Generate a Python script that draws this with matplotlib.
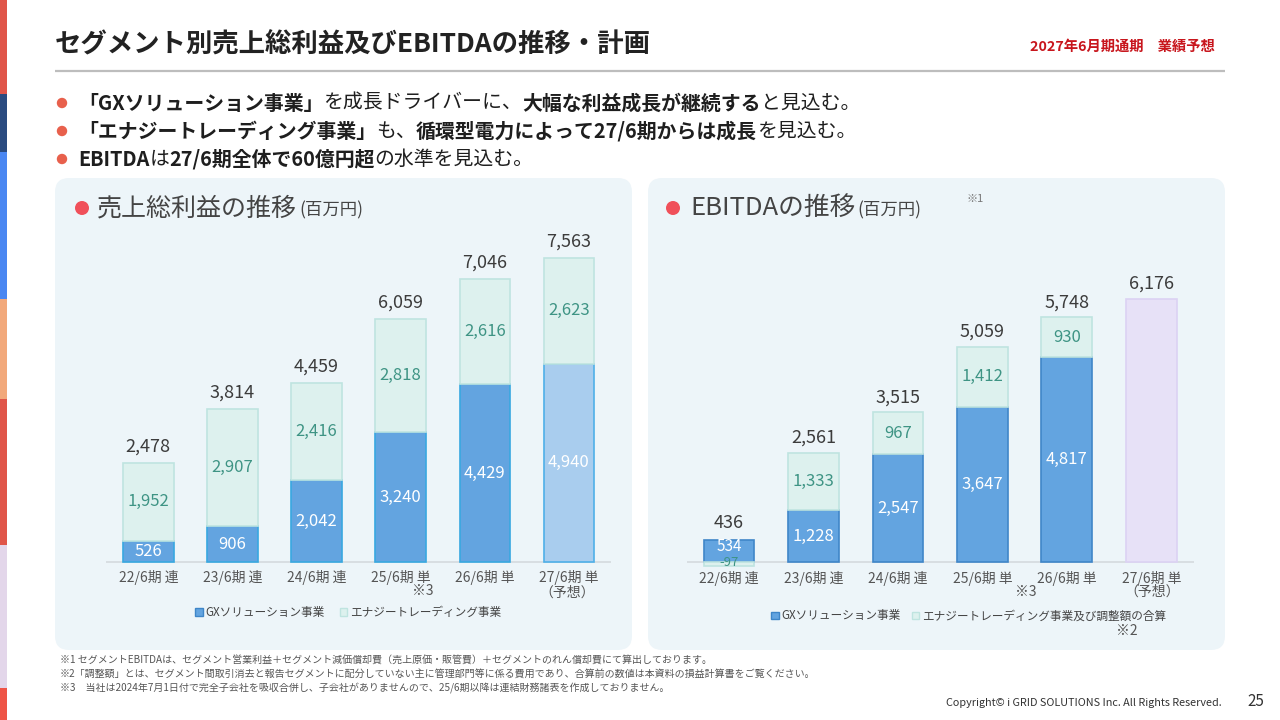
import matplotlib
matplotlib.use('Agg')
import matplotlib.pyplot as plt
from matplotlib.patches import FancyBboxPatch, Rectangle, Circle, Patch

plt.rcParams['font.family'] = ['Noto Sans CJK JP', 'DejaVu Sans']

W, H = 1280, 720

# ---------------- data ----------------
periods = ['22/6期 連', '23/6期 連', '24/6期 連', '25/6期 単', '26/6期 単', '27/6期 単']

gp_gx = [526, 906, 2042, 3240, 4429, 4940]
gp_energy = [1952, 2907, 2416, 2818, 2616, 2623]
gp_total = [2478, 3814, 4459, 6059, 7046, 7563]

eb_gx = [534, 1228, 2547, 3647, 4817]
eb_other = [-97, 1333, 967, 1412, 930]
eb_total = [436, 2561, 3515, 5059, 5748, 6176]

title = 'セグメント別売上総利益及びEBITDAの推移・計画'
header_note = '2027年6月期通期　業績予想'
bullet_lines = [
    [('「GXソリューション事業」', True), ('を成長ドライバーに、', False),
     ('大幅な利益成長が継続する', True), ('と見込む。', False)],
    [('「エナジートレーディング事業」', True), ('も、', False),
     ('循環型電力によって27/6期からは成長', True), ('を見込む。', False)],
    [('EBITDA', True), ('は', False), ('27/6期全体で60億円超', True), ('の水準を見込む。', False)],
]
left_title = '売上総利益の推移'
right_title = 'EBITDAの推移'
unit_label = '(百万円)'
left_legend = ['GXソリューション事業', 'エナジートレーディング事業']
right_legend = ['GXソリューション事業', 'エナジートレーディング事業及び調整額の合算']
forecast_note = '（予想）'
footnotes = [
    '※1 セグメントEBITDAは、セグメント営業利益＋セグメント減価償却費（売上原価・販管費）＋セグメントのれん償却費にて算出しております。',
    '※2「調整額」とは、セグメント間取引消去と報告セグメントに配分していない主に管理部門等に係る費用であり、合算前の数値は本資料の損益計算書をご覧ください。',
    '※3　当社は2024年7月1日付で完全子会社を吸収合併し、子会社がありませんので、25/6期以降は連結財務諸表を作成しておりません。',
]
copyright_text = 'Copyright© i GRID SOLUTIONS Inc. All Rights Reserved.'
page_no = '25'

# ---------------- styles ----------------
C_GX = '#63A4E0'
C_GX_EDGE = '#38A8E0'
C_GX_EDGE_R = '#3F86C8'
C_GX_FC = '#A9CDEE'
C_EN = '#DDF1EE'
C_EN_EDGE = '#BFE4E0'
C_FC_R = '#E7E1F7'
C_FC_R_EDGE = '#DCD2F3'
C_PANEL = '#EDF5F9'
C_TEAL = '#3E9484'
C_DARK = '#3C3C3C'
C_TICK = '#555555'

fig = plt.figure(figsize=(12.8, 7.2), dpi=100)
fig.patch.set_facecolor('white')
bg = fig.add_axes([0, 0, 1, 1])
bg.set_xlim(0, W)
bg.set_ylim(H, 0)
bg.set_axis_off()
renderer = fig.canvas.get_renderer()

# left stripe
stripe = [(0, 94, '#E05549'), (94, 152, '#2A4B80'), (152, 299, '#4A87F2'),
          (299, 399, '#F2A97B'), (399, 545, '#E05549'), (545, 688, '#E3D6EA'),
          (688, 720, '#EE5446')]
for y0, y1, c in stripe:
    bg.add_patch(Rectangle((0, y0), 7, y1 - y0, facecolor=c, edgecolor='none'))

# title & header
bg.text(55, 45, title, fontsize=19, fontweight='bold', color='#222222', ha='left', va='center')
bg.text(1215, 47, header_note, fontsize=10.3, fontweight='bold', color='#C8161D', ha='right', va='center')
bg.plot([55, 1225], [71, 71], color='#BDBDBD', lw=1.6, solid_capstyle='butt')

# bullets
def runs(x, y, parts, size, color, va='center'):
    for txt, bold in parts:
        t = bg.text(x, y, txt, fontsize=size, fontweight='bold' if bold else 'normal',
                    color=color, ha='left', va=va)
        x += t.get_window_extent(renderer).width
    return x

for i, parts in enumerate(bullet_lines):
    y = 103 + 28 * i
    bg.add_patch(Circle((62, y), 5.2, facecolor='#E8604C', edgecolor='none'))
    runs(78, y, parts, 14.3, '#1E1E1E')

# panels
for x0, x1 in [(55, 632), (648, 1225)]:
    bg.add_patch(FancyBboxPatch((x0, 178), x1 - x0, 472,
                                boxstyle='round,pad=0,rounding_size=14',
                                facecolor=C_PANEL, edgecolor='none'))

# panel titles
bg.add_patch(Circle((82, 208), 7, facecolor='#F0505A', edgecolor='none'))
xl = runs(97, 215, [(left_title, False)], 18, '#444444', va='baseline')
bg.text(xl + 2, 215, unit_label, fontsize=12.5, color='#444444', ha='left', va='baseline')
bg.add_patch(Circle((673, 208), 7, facecolor='#F0505A', edgecolor='none'))
xe = runs(690, 215, [(right_title, False)], 18.5, '#444444', va='baseline')
bg.text(xe + 2, 215, unit_label, fontsize=12.5, color='#444444', ha='left', va='baseline')
bg.text(966, 199, '※1', fontsize=8, color='#777777', ha='left', va='center')

# footnotes
for i, fn in enumerate(footnotes):
    bg.text(60, 661 + 13.5 * i, fn, fontsize=7.2, color='#555555', ha='left', va='center')
bg.text(1222, 703, copyright_text, fontsize=7.8, color='#333333', ha='right', va='center')
bg.text(1256, 701, page_no, fontsize=11, color='#333333', ha='center', va='center')


def px_axes(x0, y0, x1, y1):
    ax = fig.add_axes([x0 / W, 1 - y1 / H, (x1 - x0) / W, (y1 - y0) / H])
    ax.set_axis_off()
    ax.set_xlim(-0.5, 5.5)
    return ax

BW = 0.6
xs = list(range(len(periods)))

# ---------------- left chart ----------------
axL = px_axes(106.3, 230, 610.9, 600)
axL.set_ylim(-936.9, 8258)
axL.axhline(0, color='#D6DCE0', lw=1.3, zorder=1)
gx_fc = [C_GX] * 5 + [C_GX_FC]
gx_ec = [C_GX_EDGE] * 5 + ['#4FB0E8']
axL.bar(xs, gp_gx, BW, color=gx_fc, edgecolor=gx_ec, linewidth=1.2, zorder=2)
axL.bar(xs, gp_energy, BW, bottom=gp_gx, color=C_EN, edgecolor=C_EN_EDGE, linewidth=1.2, zorder=2)
for i in xs:
    axL.text(i, gp_gx[i] / 2, f'{gp_gx[i]:,}', ha='center', va='center', fontsize=12, color='white', zorder=3)
    axL.text(i, gp_gx[i] + gp_energy[i] / 2, f'{gp_energy[i]:,}', ha='center', va='center',
             fontsize=12, color=C_TEAL, zorder=3)
    axL.annotate(f'{gp_total[i]:,}', xy=(i, gp_total[i]), xytext=(0, 16), textcoords='offset pixels',
                 ha='center', va='center', fontsize=13, color=C_DARK)
    axL.annotate(periods[i], xy=(i, 0), xytext=(0, -15.5), textcoords='offset pixels',
                 ha='center', va='center', fontsize=10, color=C_TICK)
axL.annotate('※3', xy=(3, 0), xytext=(22, -29), textcoords='offset pixels',
             ha='center', va='center', fontsize=10, color=C_TICK)
axL.annotate(forecast_note, xy=(5, 0), xytext=(-2, -30.5), textcoords='offset pixels',
             ha='center', va='center', fontsize=10, color=C_TICK)

fig.legend([Patch(facecolor=C_GX, edgecolor=C_GX_EDGE_R), Patch(facecolor=C_EN, edgecolor=C_EN_EDGE)],
           left_legend, loc='center', bbox_to_anchor=(348 / W, 1 - 612.5 / H), ncol=2, frameon=False,
           fontsize=8.4, handlelength=0.65, handleheight=0.65, handletextpad=0.2, columnspacing=1.3,
           labelcolor='#444444', borderpad=0)

# ---------------- right chart ----------------
axR = px_axes(686.8, 230, 1193.5, 600)
axR.set_ylim(-884.4, 7795)
axR.axhline(0, color='#D6DCE0', lw=1.3, zorder=1)
n = len(eb_gx)
axR.bar(xs[:n], eb_gx, BW, color=C_GX, edgecolor=C_GX_EDGE_R, linewidth=1.2, zorder=2)
other_bottom = [g if o > 0 else 0 for g, o in zip(eb_gx, eb_other)]
axR.bar(xs[:n], eb_other, BW, bottom=other_bottom, color=C_EN, edgecolor=C_EN_EDGE, linewidth=1.2, zorder=2)
axR.bar(xs[n:], eb_total[n:], BW, color=C_FC_R, edgecolor=C_FC_R_EDGE, linewidth=1.2, zorder=2)
for i in xs:
    if i < n:
        if eb_other[i] < 0:
            # small first bar: separate the two labels slightly
            axR.annotate(f'{eb_gx[i]:,}', xy=(i, eb_gx[i] / 2), xytext=(0, 4.5), textcoords='offset pixels',
                         ha='center', va='center', fontsize=11, color='white', zorder=3)
            axR.annotate(f'{eb_other[i]:,}', xy=(i, eb_other[i] / 2), xytext=(0, 2), textcoords='offset pixels',
                         ha='center', va='center', fontsize=9.5, color=C_TEAL, zorder=3)
        else:
            axR.text(i, eb_gx[i] / 2, f'{eb_gx[i]:,}', ha='center', va='center', fontsize=12,
                     color='white', zorder=3)
            axR.text(i, other_bottom[i] + eb_other[i] / 2, f'{eb_other[i]:,}', ha='center', va='center',
                     fontsize=12, color=C_TEAL, zorder=3)
        top = max(eb_total[i], eb_gx[i])
    else:
        top = eb_total[i]
    axR.annotate(f'{eb_total[i]:,}', xy=(i, top), xytext=(0, 15 if i else 17), textcoords='offset pixels',
                 ha='center', va='center', fontsize=13, color=C_DARK)
    axR.annotate(periods[i], xy=(i, 0), xytext=(0, -16.5), textcoords='offset pixels',
                 ha='center', va='center', fontsize=10, color=C_TICK)
axR.annotate('※3', xy=(3, 0), xytext=(43, -29.5), textcoords='offset pixels',
             ha='center', va='center', fontsize=10, color=C_TICK)
axR.annotate(forecast_note, xy=(5, 0), xytext=(1, -29.5), textcoords='offset pixels',
             ha='center', va='center', fontsize=10, color=C_TICK)

fig.legend([Patch(facecolor=C_GX, edgecolor=C_GX_EDGE_R), Patch(facecolor=C_EN, edgecolor=C_EN_EDGE)],
           right_legend, loc='center', bbox_to_anchor=(968.5 / W, 1 - 616 / H), ncol=2, frameon=False,
           fontsize=8.4, handlelength=0.65, handleheight=0.65, handletextpad=0.2, columnspacing=1.0,
           labelcolor='#444444', borderpad=0)
bg.text(1127, 631, '※2', fontsize=10, color=C_TICK, ha='center', va='center')

fig.savefig('out.png', dpi=100, facecolor='white')
